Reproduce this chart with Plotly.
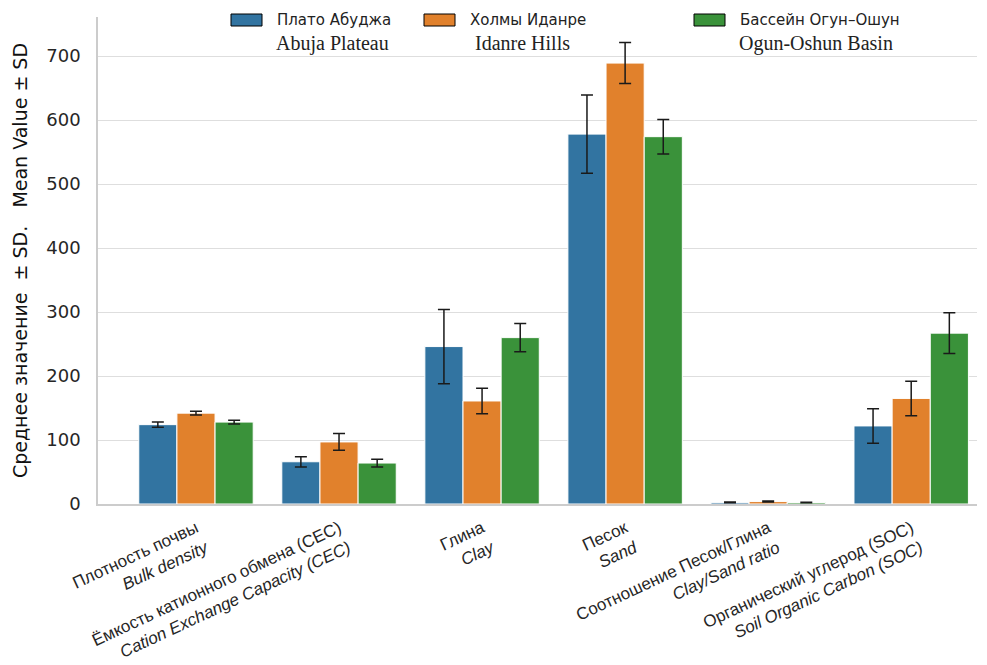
import plotly.graph_objects as go

# ---- data ----
categories = [
    "Плотность почвы<br><i>Bulk density</i>",
    "Ёмкость катионного обмена (CEC)<br><i>Cation Exchange Capacity (CEC)</i>",
    "Глина<br><i>Clay</i>",
    "Песок<br><i>Sand</i>",
    "Соотношение Песок/Глина<br><i>Clay/Sand ratio</i>",
    "Органический углерод (SOC)<br><i>Soil Organic Carbon (SOC)</i>",
]
series_ru = ["Плато Абуджа", "Холмы Иданре", "Бассейн Огун–Ошун"]
series_en = ["Abuja Plateau", "Idanre Hills", "Ogun-Oshun Basin"]
abuja = [124, 66, 246, 578, 2.5, 122]
abuja_sd = [4, 8, 58, 61, 0.5, 27]
idanre = [142, 97, 161, 689, 3.8, 165]
idanre_sd = [3, 13, 20, 32, 0.8, 27]
ogun = [128, 64, 260, 574, 2.4, 267]
ogun_sd = [3, 6, 22, 27, 0.5, 32]
y_ticks = [0, 100, 200, 300, 400, 500, 600, 700]

colors = ["#3274a1", "#e1812c", "#3a923a"]
values = [abuja, idanre, ogun]
sds = [abuja_sd, idanre_sd, ogun_sd]

# page body adds an 8px offset; figure is sized to fit the window
OFF = 8
W, H = 987 - OFF, 665 - OFF
# target plot area in window pixels
PX0, PX1, PY0, PY1 = 98, 977, 17, 504
L, R = PX0 - OFF, W - (PX1 - OFF)
T, B = PY0 - OFF, H - (PY1 - OFF)


def px_x(px):
    return (px - PX0) / (PX1 - PX0)


def px_y(py):
    return (PY1 - py) / (PY1 - PY0)


fig = go.Figure()
for name, vals, sd, col in zip(series_en, values, sds, colors):
    fig.add_trace(go.Bar(
        x=categories, y=vals, name=name,
        marker=dict(color=col, line=dict(color="white", width=1)),
        error_y=dict(type="data", array=sd, color="#1a1a1a", thickness=1.5, width=6),
        showlegend=False,
    ))

# manual legend (swatch + two-line label)
sw_x = [231, 424, 694]
ru_x = [275, 468, 738]
en_x = [274, 473, 737]
shapes = []
annotations = []
for i in range(3):
    shapes.append(dict(type="rect", xref="paper", yref="paper",
                       x0=px_x(sw_x[i]), x1=px_x(sw_x[i] + 31),
                       y0=px_y(26), y1=px_y(14),
                       fillcolor=colors[i], line=dict(color="black", width=1)))
    annotations.append(dict(xref="paper", yref="paper", x=px_x(ru_x[i]), y=px_y(20),
                            xanchor="left", yanchor="middle", showarrow=False,
                            text=series_ru[i],
                            font=dict(family="DejaVu Sans", size=15, color="#222")))
    annotations.append(dict(xref="paper", yref="paper", x=px_x(en_x[i]), y=px_y(43),
                            xanchor="left", yanchor="middle", showarrow=False,
                            text=series_en[i],
                            font=dict(family="Liberation Serif", size=20, color="#222")))

fig.update_layout(
    width=W, height=H,
    margin=dict(l=L, r=R, t=T, b=B, autoexpand=False),
    plot_bgcolor="white", paper_bgcolor="white",
    barmode="group", bargap=0.2, bargroupgap=0,
    shapes=shapes, annotations=annotations,
    xaxis=dict(
        range=[-0.685, 5.46], showline=True, linecolor="#cccccc", linewidth=1.5,
        showgrid=False, ticks="", tickangle=-25,
        tickfont=dict(family="Liberation Sans", size=17, color="#262626"),
        ticklabelstandoff=6,
    ),
    yaxis=dict(
        range=[0, 761], tickvals=y_ticks, showline=True, linecolor="#cccccc", linewidth=1.5,
        showgrid=True, gridcolor="#dedede", gridwidth=1.4, zeroline=False, ticks="",
        tickfont=dict(family="DejaVu Sans", size=18, color="#262626"),
        ticklabelstandoff=12,
        title=dict(text="Среднее значение \u00a0± SD. \u00a0 Mean Value ± SD",
                   font=dict(family="DejaVu Sans", size=19, color="#111"), standoff=14),
    ),
)

fig.write_html("out.html")
